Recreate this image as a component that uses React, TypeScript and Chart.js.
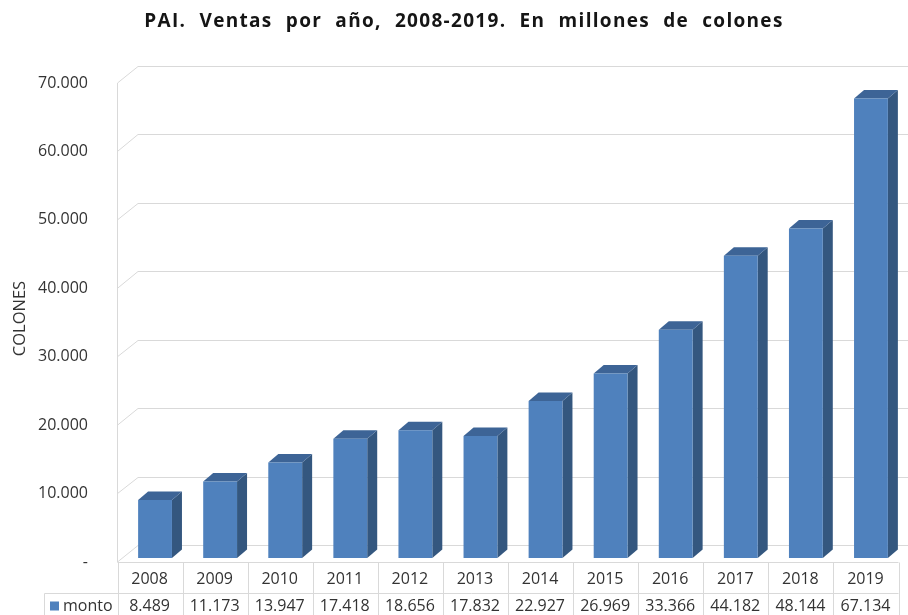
import React, { useEffect, useRef } from "react";
import { Chart, registerables } from "chart.js";

Chart.register(...registerables);

const years = ["2008", "2009", "2010", "2011", "2012", "2013", "2014", "2015", "2016", "2017", "2018", "2019"];
const montos = [8489, 11173, 13947, 17418, 18656, 17832, 22927, 26969, 33366, 44182, 48144, 67134];
const seriesName = "monto";
const titleText = "PAI. Ventas por año, 2008-2019. En millones de colones";
const yTitle = "COLONES";
const yMax = 70000;
const yStep = 10000;

const FRONT = "#4F81BD";
const TOP = "#3D6496";
const SIDE = "#34577F";
const GRID = "#d9d9d9";
const TEXT = "#333333";
const FONT = "'Open Sans', sans-serif";

function fmt(n: number): string {
  if (n === 0) return "-";
  return String(Math.round(n)).replace(/\B(?=(\d{3})+(?!\d))/g, ".");
}

// 3D geometry (pixels)
const BAR_DX = 10, BAR_DY = -8.5;    // bar depth
const FRONT_DX = -5.5, FRONT_DY = 4; // floor front edge relative to bar plane
const BACK_DX = 15.5, BACK_DY = -13; // back wall relative to bar plane

const threeD = {
  id: "threeD",
  beforeDatasetsDraw(chart: any) {
    const { ctx, chartArea, scales } = chart;
    const y = scales.y;
    const W = chart.width;
    ctx.save();
    ctx.strokeStyle = GRID;
    ctx.lineWidth = 1;
    const xf = Math.round(chartArea.left + FRONT_DX) + 0.5;
    const xb = chartArea.left + BACK_DX;
    for (let v = 0; v <= yMax; v += yStep) {
      const p = y.getPixelForValue(v);
      const yf = p + FRONT_DY;
      const yb = Math.round(p + BACK_DY) + 0.5;
      ctx.beginPath();
      ctx.moveTo(xf, yf);
      ctx.lineTo(xb, yb);
      ctx.lineTo(W, yb);
      ctx.stroke();
    }
    // front-left vertical edge
    ctx.beginPath();
    ctx.moveTo(xf, y.getPixelForValue(yMax) + FRONT_DY);
    ctx.lineTo(xf, y.getPixelForValue(0) + FRONT_DY);
    ctx.stroke();

    // bar sides & tops
    const meta = chart.getDatasetMeta(0);
    meta.data.forEach((bar: any) => {
      const { x, y: top, base, width } = bar.getProps(["x", "y", "base", "width"], true);
      const x0 = x - width / 2;
      const x1 = x + width / 2;
      ctx.fillStyle = SIDE;
      ctx.beginPath();
      ctx.moveTo(x1, top);
      ctx.lineTo(x1 + BAR_DX, top + BAR_DY);
      ctx.lineTo(x1 + BAR_DX, base + BAR_DY);
      ctx.lineTo(x1, base);
      ctx.closePath();
      ctx.fill();
      ctx.fillStyle = TOP;
      ctx.beginPath();
      ctx.moveTo(x0, top);
      ctx.lineTo(x0 + BAR_DX, top + BAR_DY);
      ctx.lineTo(x1 + BAR_DX, top + BAR_DY);
      ctx.lineTo(x1, top);
      ctx.closePath();
      ctx.fill();
    });
    ctx.restore();
  },
  afterDraw(chart: any) {
    const { ctx, chartArea, scales } = chart;
    const xs = scales.x;
    const y = scales.y;
    const colW = (chartArea.right - chartArea.left) / years.length;
    const top = Math.round(y.getPixelForValue(0) + FRONT_DY) + 0.5;
    const mid = top + 31;
    const bottom = chart.height + 5;
    const leftTable = Math.round(chartArea.left + FRONT_DX) + 0.5;
    const rightTable = leftTable + colW * years.length;
    const legendLeft = 44.5;
    ctx.save();
    // title
    ctx.fillStyle = "#151515";
    ctx.font = `bold 19px ${FONT}`;
    (ctx as any).letterSpacing = "1.3px";
    (ctx as any).wordSpacing = "7px";
    ctx.textAlign = "center";
    ctx.textBaseline = "middle";
    ctx.fillText(titleText, chart.width / 2 + 10, 22);
    (ctx as any).letterSpacing = "0px";
    (ctx as any).wordSpacing = "0px";

    ctx.strokeStyle = GRID;
    ctx.lineWidth = 1;
    ctx.beginPath();
    ctx.moveTo(leftTable, top);
    ctx.lineTo(rightTable, top);
    ctx.moveTo(legendLeft, mid);
    ctx.lineTo(rightTable, mid);
    ctx.moveTo(legendLeft, mid);
    ctx.lineTo(legendLeft, bottom);
    for (let i = 0; i <= years.length; i++) {
      const xx = Math.round(leftTable + i * colW) + 0.5;
      ctx.moveTo(xx, top);
      ctx.lineTo(xx, bottom);
    }
    ctx.stroke();

    ctx.fillStyle = TEXT;
    ctx.font = `16px ${FONT}`;
    ctx.textAlign = "center";
    ctx.textBaseline = "middle";
    years.forEach((yr, i) => {
      const cx = xs.getPixelForValue(i) + FRONT_DX;
      ctx.fillText(yr, cx, (top + mid) / 2 + 1);
      ctx.fillText(fmt(montos[i]), cx, mid + 13);
    });
    // legend key
    ctx.fillStyle = FRONT;
    ctx.fillRect(50, mid + 8, 9, 9);
    ctx.fillStyle = TEXT;
    ctx.textAlign = "left";
    ctx.fillText(seriesName, 63, mid + 13);
    ctx.restore();
  },
};

export default function App() {
  const ref = useRef<HTMLCanvasElement>(null);
  useEffect(() => {
    document.body.style.margin = "0";
    const chart = new Chart(ref.current!, {
      type: "bar",
      data: {
        labels: years,
        datasets: [
          {
            label: seriesName,
            data: montos,
            backgroundColor: FRONT,
            borderWidth: 0,
            categoryPercentage: 1,
            barPercentage: 0.52,
          },
        ],
      },
      options: {
        responsive: false,
        animation: false,
        devicePixelRatio: 1,
        layout: { padding: { left: 0, right: 4.5, top: 79, bottom: 57 } },
        plugins: {
          legend: { display: false },
          tooltip: { enabled: false },
          title: { display: false },
        },
        scales: {
          x: { display: false },
          y: {
            min: 0,
            max: yMax,
            afterFit: (s: any) => { s.width = 122.5; },
            grid: { display: false, drawTicks: false },
            border: { display: false },
            ticks: {
              stepSize: yStep,
              padding: 34.5,
              labelOffset: 4,
              color: TEXT,
              font: { family: FONT, size: 16 },
              callback: (v: any) => fmt(Number(v)),
            },
            title: {
              display: true,
              text: yTitle,
              color: TEXT,
              font: { family: FONT, size: 16.5 },
              padding: { top: 10, bottom: 0 },
            },
          },
        },
      },
      plugins: [threeD],
    });
    return () => chart.destroy();
  }, []);
  return (
    <div style={{ width: 908, height: 615 }}>
      <canvas ref={ref} width={908} height={615} />
    </div>
  );
}
